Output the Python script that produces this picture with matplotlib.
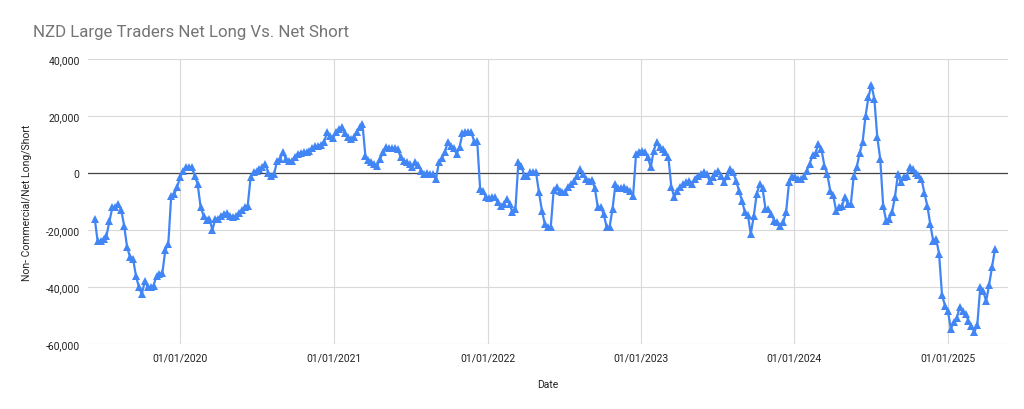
import pandas as pd
import matplotlib.pyplot as plt
import matplotlib.dates as mdates
from matplotlib.ticker import FuncFormatter, MultipleLocator

plt.rcParams['font.family'] = ['Roboto', 'DejaVu Sans']

# Weekly (Tuesday) net positions, thousands of contracts
net_2019 = [-16, -24, -24, -23, -22, -17, -12, -12, -11, -13, -18.5, -26, -29.5, -30, -36,
            -40, -42.5, -38, -40, -40, -39.5, -36, -35.5, -35, -27, -25, -8, -7.5, -5, -1.5]
net_2020 = [0.7, 2, 2, 2, -1, -4, -12, -15, -16.5, -16, -20, -16, -16, -15, -14.5, -14,
            -15, -15.5, -15, -14, -13, -12, -11.5, -1.4, 0.3, 0.8, 1.4, 2, 3.2, 0, -1.2,
            -0.3, 4.3, 4.9, 7.3, 4.9, 4.3, 4.3, 5.5, 6.7, 7, 7.3, 7.5, 7.8, 8.7, 9.3, 9.6,
            10, 11, 14.3, 13.1, 12.2]
net_2021 = [14.3, 15.5, 16, 14, 12.5, 11.9, 12.5, 14.3, 16, 17.2, 6.1, 4.7, 3.8, 3.2, 2.6,
            4.9, 7.3, 9, 8.7, 8.7, 8.7, 8.4, 5.5, 4.3, 3.8, 3, 2, 3.8, 2.8, 0.8, -0.4, 0,
            -0.4, -0.4, -2.1, 3.8, 5.1, 7.3, 10.8, 9.6, 8.7, 6.7, 9, 13.9, 14.3, 14.3, 14.3,
            11, 11.3, -5.6, -6.2, -8.5]
net_2022 = [-8.9, -8.5, -8.5, -10.3, -11.5, -10.9, -9.1, -10.9, -13.8, -12.6, 3.8, 2.6,
            -0.9, -0.9, 0.2, 0.2, 0.2, -6.8, -13.2, -17.9, -19, -19, -6, -5, -6.2, -6.8,
            -6.8, -5, -3.9, -2.7, -0.9, 1.4, -0.5, -2, -2.7, -2.3, -5.4, -12, -12, -14.4,
            -19, -19, -12.6, -3.9, -5.4, -5.4, -5, -5.6, -6.2, -8, 6.7, 7.3]
net_2023 = [7.8, 7.3, 5.5, 2, 7.8, 10.8, 9, 8.4, 7.3, 5.5, -5, -8.5, -6.2, -5, -3.9, -3.3,
            -2.7, -3.9, -2.1, -0.9, -0.4, 0.2, -0.4, -2.7, -1.5, 0, 0.8, -0.9, -3.3, -0.9,
            1.4, 0.2, -2.7, -6.2, -9.7, -13.8, -14.7, -21.4, -15.2, -7.4, -3.9, -5.4, -12.6,
            -12.6, -14.4, -16.7, -17.3, -18.5, -17.3, -13.8, -3.3, -1]
net_2024 = [-1.5, -2.1, -2.1, -1.2, 0.8, 3.2, 6.3, 7, 10.2, 8.4, 2.6, -0.4, -6.2, -7.7,
            -13.2, -12, -11.5, -8.5, -10.9, -10.9, -1, 2, 7, 10.8, 20, 26.6, 31, 26, 12.5,
            4.9, -11.5, -16.7, -16.1, -13.8, -8.5, -0.4, -3.3, -1.5, -0.9, 2, 1.4, 0, -0.7,
            -2, -7, -11.5, -17.9, -23.8, -23, -28.4, -42.8, -46.5, -48.4]
net_2025 = [-54.7, -52.3, -51, -47, -48.5, -49.5, -51.8, -53.6, -55.8, -53.2, -40, -41.3,
            -45, -39.3, -33, -26.7]

values = [v * 1000 for v in net_2019 + net_2020 + net_2021 + net_2022 + net_2023 + net_2024 + net_2025]
dates = pd.date_range('2019-06-11', periods=len(values), freq='W-TUE')

fig = plt.figure(figsize=(10.24, 4.10), dpi=100)
ax = fig.add_axes([88 / 1024, 1 - 345 / 410, 920 / 1024, 285 / 410])
ax.set_axisbelow(True)

ax.plot(dates, values, color='#4285F4', linewidth=1.6, marker='^', markersize=6,
        markeredgewidth=0, zorder=3)

ax.set_ylim(-60000, 40000)
ax.set_xlim(pd.Timestamp('2019-05-26'), pd.Timestamp('2025-05-23'))
ax.yaxis.set_major_locator(MultipleLocator(20000))
ax.yaxis.set_major_formatter(FuncFormatter(lambda v, p: f'{int(v):,}'))
ax.xaxis.set_major_locator(mdates.YearLocator(month=1, day=1))
ax.xaxis.set_major_formatter(mdates.DateFormatter('%m/%d/%Y'))

ax.grid(True, color='#d9d9d9', linewidth=0.8)
ax.axhline(0, color='#444444', linewidth=0.9, zorder=2)
for s in ax.spines.values():
    s.set_visible(False)
ax.tick_params(length=0, labelsize=7.5, colors='#222222', pad=6)

ax.set_xlabel('Date', fontsize=7.5, color='#222222', labelpad=12)
ax.set_ylabel('Non- Commercial/Net Long/Short', fontsize=7.5, color='#222222', labelpad=10)
fig.text(33 / 1024, 1 - 33 / 410, 'NZD Large Traders Net Long Vs. Net Short',
         fontsize=12.2, color='#757575', va='center', ha='left')

plt.savefig('out.png', dpi=100)
